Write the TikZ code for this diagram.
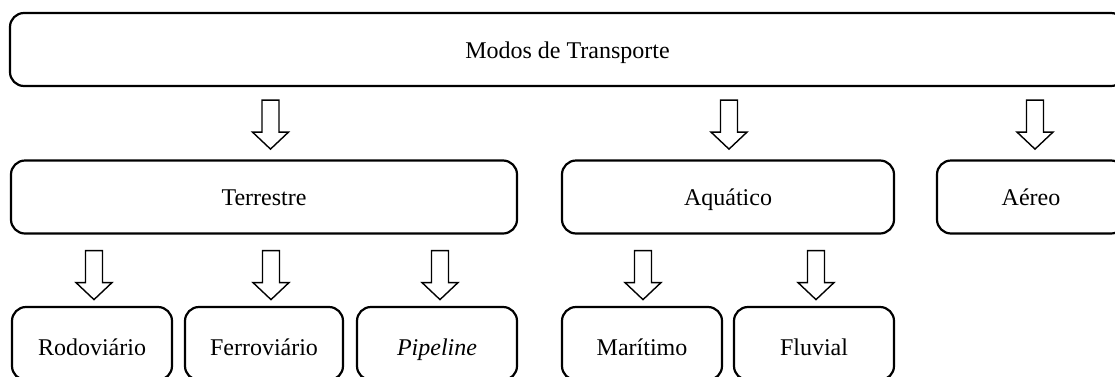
\documentclass[tikz,border=0pt]{standalone}
\usepackage{fontspec}
\setmainfont{Liberation Serif}
\usetikzlibrary{calc}
\tikzset{
  box/.style={draw=black, line width=2.2bp, rounded corners=14bp, fill=white,
    inner sep=0pt, minimum height=73bp, text height=17bp, text depth=0bp,
    font=\fontsize{24bp}{28bp}\selectfont, align=center},
  lowbox/.style={box, text height=23bp},
  arrowline/.style={draw=black, line width=1.4bp, fill=white, line join=miter},
}
\newcommand\blockarrow[3]{%
  \draw[arrowline] let \p1=(#2.south), \p2=(#1,0) in
   (\x2-8.5bp,\y1-#3) -- ++(17bp,0) -- ++(0,-32bp) -- ++(9.5bp,0)
   -- ++(-18bp,-17bp) -- ++(-18bp,17bp) -- ++(9.5bp,0) -- cycle;}
\begin{document}
\begin{tikzpicture}[x=1bp,y=-1bp]
\fill[white] (0,0) rectangle (1115,376);
\useasboundingbox (0,0) rectangle (1115,376);
\clip (0,0) rectangle (1115,376);
% top
\node[box, minimum width=1115bp] (modos) at (567.5,49.5) {Modos de Transporte};
% second row
\node[box, minimum width=506bp] (terr) at (264,197) {Terrestre};
\node[box, minimum width=332bp] (aqua) at (728,197) {Aquático};
\node[box, minimum width=188bp] (aereo) at (1031,197) {Aéreo};
% third row
\node[lowbox, minimum width=160bp] (rodo) at (92,343.5) {Rodoviário};
\node[lowbox, minimum width=158bp] (ferro) at (264,343.5) {Ferroviário};
\node[lowbox, minimum width=160bp] (pipe) at (437,343.5) {\itshape Pipeline};
\node[lowbox, minimum width=160bp] (mari) at (642,343.5) {Marítimo};
\node[lowbox, minimum width=160bp] (fluv) at (814,343.5) {Fluvial};
% arrows
\blockarrow{270.5}{modos}{13bp}
\blockarrow{729}{modos}{13bp}
\blockarrow{1035}{modos}{13bp}
\blockarrow{94}{terr}{16bp}
\blockarrow{271}{terr}{16bp}
\blockarrow{440}{terr}{16bp}
\blockarrow{643}{aqua}{16bp}
\blockarrow{816}{aqua}{16bp}
\end{tikzpicture}
\end{document}
